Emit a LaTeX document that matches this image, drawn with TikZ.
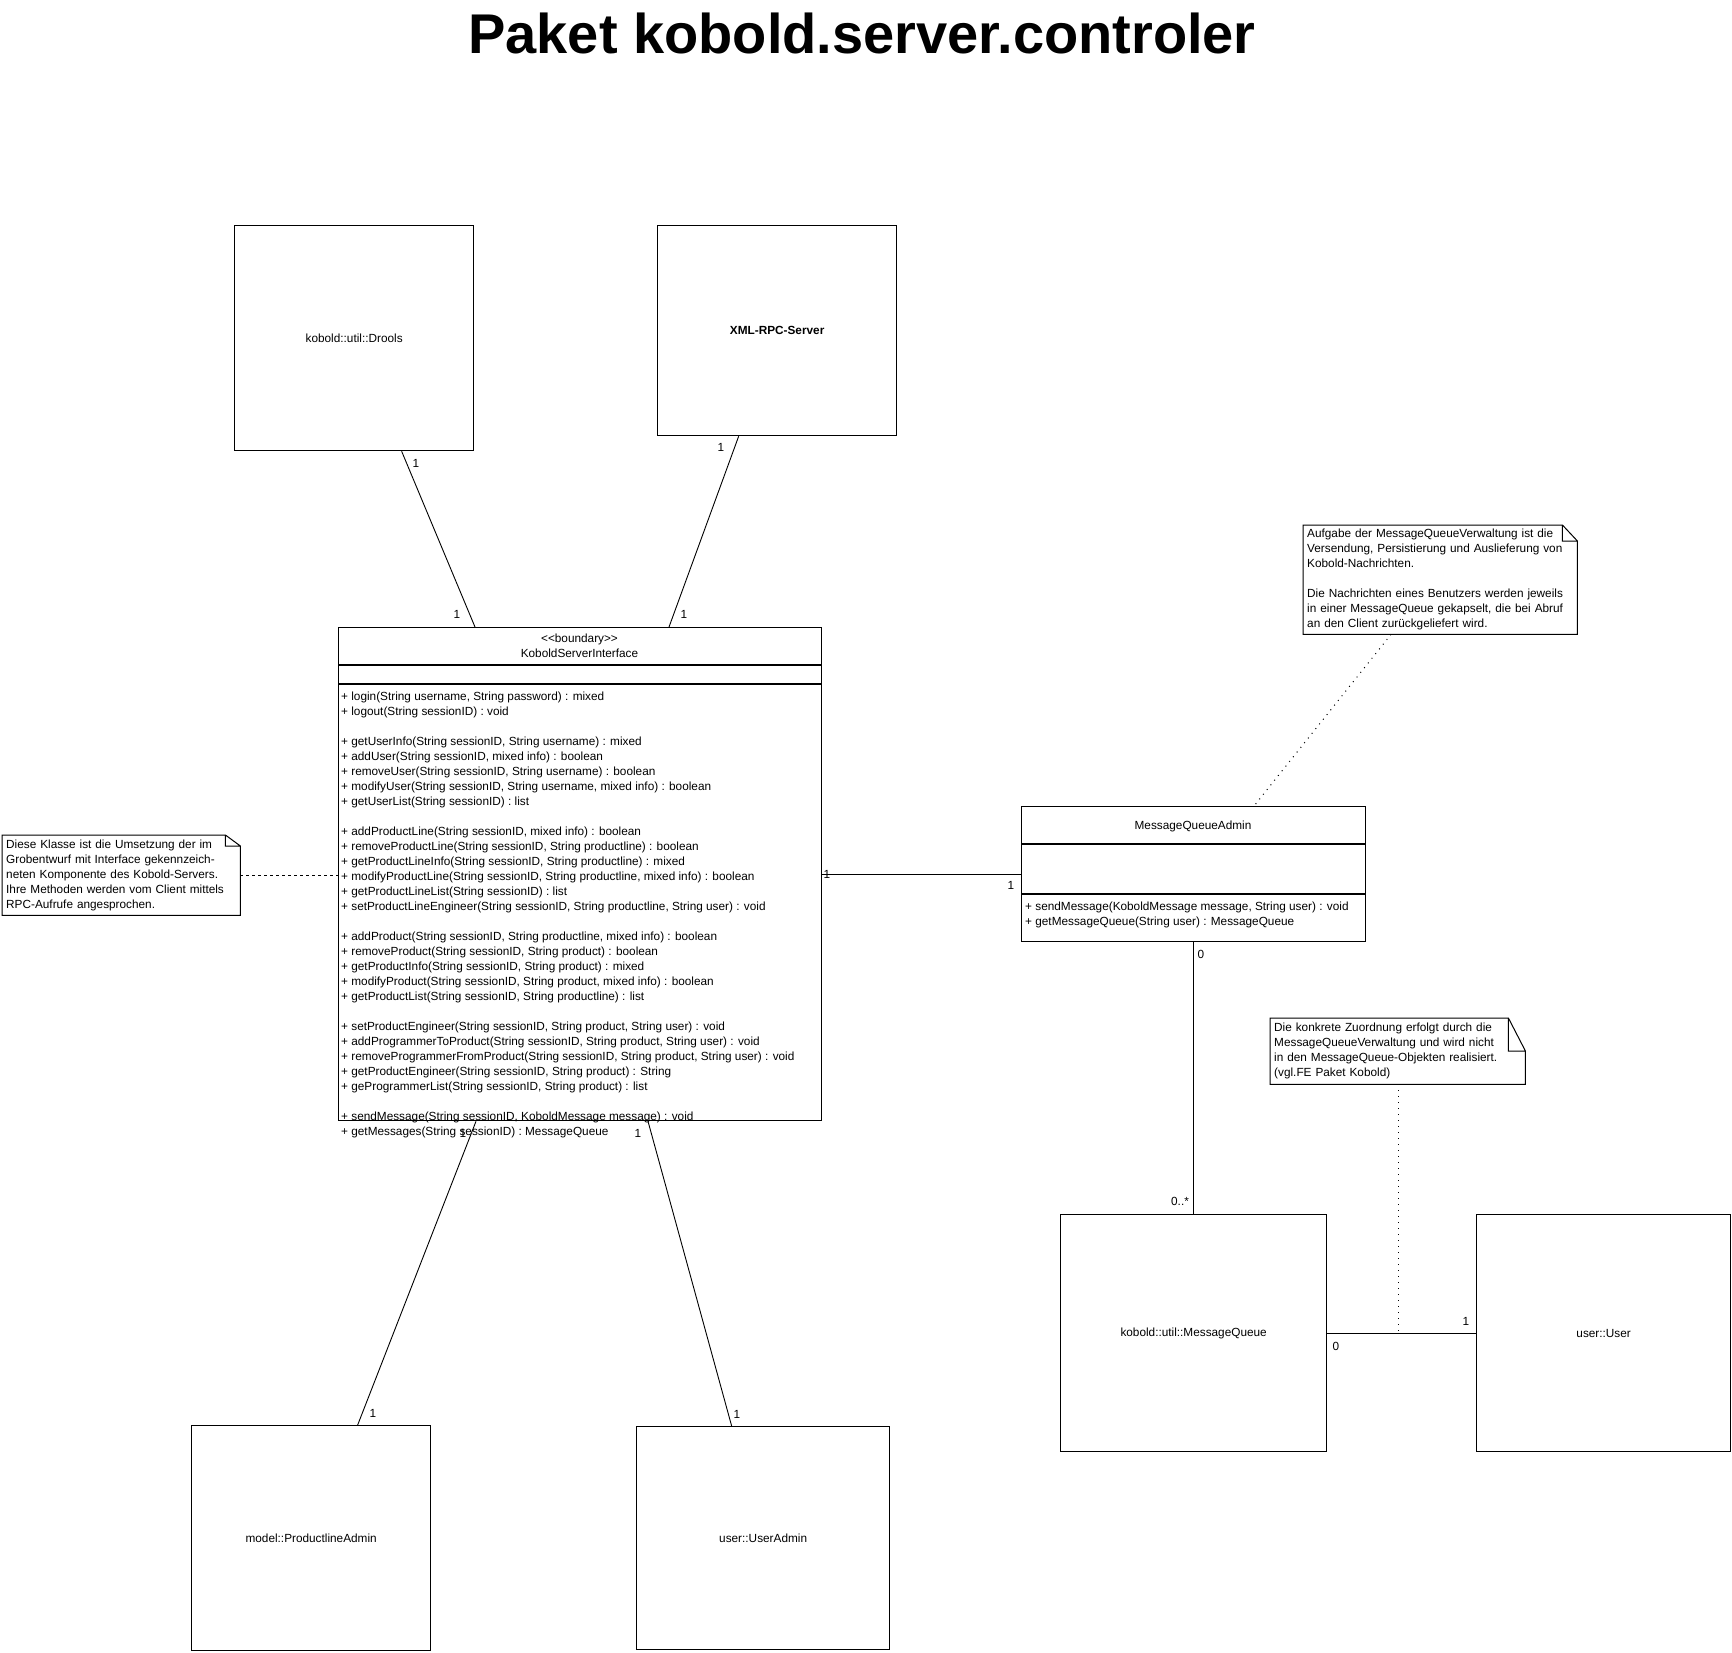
\documentclass[tikz,border=0pt]{standalone}
\usepackage{fontspec}
\setmainfont{Liberation Sans}
\newcommand{\umlfont}{\fontsize{11.8}{15}\selectfont}
% note outline with folded corner: name, fold width, fold height
\newcommand{\dogear}[3]{%
  \draw[line width=1pt] (#1.north west) -- ([xshift=-#2]#1.north east) -- ([yshift=-#3]#1.north east)
    -- (#1.south east) -- (#1.south west) -- cycle
    ([xshift=-#2]#1.north east) -- ([xshift=-#2,yshift=-#3]#1.north east) -- ([yshift=-#3]#1.north east);}

\begin{document}
\begin{tikzpicture}[x=1pt, y=-1pt,
    box/.style={draw, rectangle, anchor=north west, line width=1.3pt, inner sep=0pt, font=\umlfont},
    note/.style={rectangle, anchor=north west, inner sep=4pt, align=left, font=\umlfont},
    mult/.style={font=\umlfont, inner sep=0pt},
    assoc/.style={line width=0.9pt},
    dashlink/.style={line width=0.9pt, dash pattern=on 3pt off 3pt},
    dotlink/.style={line width=1pt, dash pattern=on 1pt off 5pt}]
    \useasboundingbox (0,0) rectangle (1732,1652);

    \node[anchor=base, font=\fontsize{56}{60}\selectfont\bfseries] (title) at (862,53) {Paket kobold.server.controler};

    % Top row
    \node[box, minimum width=239pt, minimum height=225pt] (drools) at (234,225) {kobold::util::Drools};
    \node[box, minimum width=239pt, minimum height=210pt, font=\umlfont\bfseries] (xmlrpc) at (657,225) {XML-RPC-Server};

    % Boundary class
    \node[box, minimum width=483pt, minimum height=493pt] (ksi) at (338,627) {};
    \node[mult, align=center] (ksi-name) at (579.5,646) {<{}<boundary>{}>\\KoboldServerInterface};
    \draw[line width=1.3pt] (338,665) -- (821,665);
    \draw[line width=1.3pt] (338,684) -- (821,684);
    \node[note, inner sep=0pt] (ksi-ops) at (341,691.5) {%
      + login(String username, String password) : mixed\\
      + logout(String sessionID) : void\\[15pt]
      + getUserInfo(String sessionID, String username) : mixed\\
      + addUser(String sessionID, mixed info) : boolean\\
      + removeUser(String sessionID, String username) : boolean\\
      + modifyUser(String sessionID, String username, mixed info) : boolean\\
      + getUserList(String sessionID) : list\\[15pt]
      + addProductLine(String sessionID, mixed info) : boolean\\
      + removeProductLine(String sessionID, String productline) : boolean\\
      + getProductLineInfo(String sessionID, String productline) : mixed\\
      + modifyProductLine(String sessionID, String productline, mixed info) : boolean\\
      + getProductLineList(String sessionID) : list\\
      + setProductLineEngineer(String sessionID, String productline, String user) : void\\[15pt]
      + addProduct(String sessionID, String productline, mixed info) : boolean\\
      + removeProduct(String sessionID, String product) : boolean\\
      + getProductInfo(String sessionID, String product) : mixed\\
      + modifyProduct(String sessionID, String product, mixed info) : boolean\\
      + getProductList(String sessionID, String productline) : list\\[15pt]
      + setProductEngineer(String sessionID, String product, String user) : void\\
      + addProgrammerToProduct(String sessionID, String product, String user) : void\\
      + removeProgrammerFromProduct(String sessionID, String product, String user) : void\\
      + getProductEngineer(String sessionID, String product) : String\\
      + geProgrammerList(String sessionID, String product) : list\\[15pt]
      + sendMessage(String sessionID, KoboldMessage message) : void\\
      + getMessages(String sessionID) : MessageQueue};

    % Bottom row
    \node[box, minimum width=239pt, minimum height=225pt] (plAdmin) at (191,1425) {model::ProductlineAdmin};
    \node[box, minimum width=253pt, minimum height=223pt] (userAdmin) at (636,1426) {user::UserAdmin};

    % Message queue side
    \node[box, minimum width=344pt, minimum height=135pt] (mqa) at (1021,806) {};
    \node[mult] (mqa-name) at (1193,826) {MessageQueueAdmin};
    \draw[line width=1.3pt] (1021,844) -- (1365,844);
    \draw[line width=1.3pt] (1021,894) -- (1365,894);
    \node[note, inner sep=0pt] (mqa-ops) at (1025,901.5) {%
      + sendMessage(KoboldMessage message, String user) : void\\
      + getMessageQueue(String user) : MessageQueue};
    \node[box, minimum width=266pt, minimum height=237pt] (mq) at (1060,1214) {kobold::util::MessageQueue};
    \node[box, minimum width=254pt, minimum height=237pt] (user) at (1476,1214) {user::User};

    % Notes
    \node[note, minimum width=238pt, minimum height=80pt, text width=230pt] (note-ksi) at (2,835) {%
      Diese Klasse ist die Umsetzung der im\\
      Grobentwurf mit Interface gekennzeich-\\
      neten Komponente des Kobold-Servers.\\
      Ihre Methoden werden vom Client mittels\\
      RPC-Aufrufe angesprochen.};
    \dogear{note-ksi}{15pt}{11pt}
    \node[note, minimum width=274pt, minimum height=107pt, text width=266pt] (note-mqa) at (1303,525) {%
      Aufgabe der MessageQueueVerwaltung ist die\\
      Versendung, Persistierung und Auslieferung von\\
      Kobold-Nachrichten.\\[15pt]
      Die Nachrichten eines Benutzers werden jeweils\\
      in einer MessageQueue gekapselt, die bei Abruf\\
      an den Client zurückgeliefert wird.};
    \dogear{note-mqa}{15pt}{16pt}
    \node[note, minimum width=255pt, minimum height=66pt, text width=247pt] (note-assign) at (1270,1018) {%
      Die konkrete Zuordnung erfolgt durch die\\
      MessageQueueVerwaltung und wird nicht\\
      in den MessageQueue-Objekten realisiert.\\
      (vgl.FE Paket Kobold)};
    \dogear{note-assign}{17pt}{33pt}

    % Associations
    \draw[assoc] ([xshift=47.5pt]drools.south) -- ([xshift=137pt]ksi.north west);
    \draw[assoc] ([xshift=-38.5pt]xmlrpc.south) -- ([xshift=331pt]ksi.north west);
    \draw[assoc] ([xshift=138pt]ksi.south west) -- ([xshift=46.5pt]plAdmin.north);
    \draw[assoc] ([xshift=310pt]ksi.south west) -- ([xshift=-31.5pt]userAdmin.north);
    \draw[assoc] (ksi.east |- mqa.west) -- (mqa.west);
    \draw[assoc] (mqa.south) -- (mq.north);
    \draw[assoc] (mq.east) -- (user.west) coordinate[pos=0.48] (mq-user);

    % Note links
    \draw[dashlink] (note-ksi.east) -- (ksi.west |- note-ksi.east);
    \draw[dotlink] ([xshift=88pt]note-mqa.south west) -- ([xshift=233pt]mqa.north west);
    \draw[dotlink] (note-assign.south -| mq-user) -- (mq-user);

    % Multiplicities
    \node[mult] (m-drools) at (416,463) {1};
    \node[mult] (m-ksi-drools) at (457,614) {1};
    \node[mult] (m-xmlrpc) at (721,447) {1};
    \node[mult] (m-ksi-xmlrpc) at (684,614) {1};
    \node[mult] (m-ksi-pl) at (463,1133) {1};
    \node[mult] (m-pl) at (373,1413) {1};
    \node[mult] (m-ksi-ua) at (638,1133) {1};
    \node[mult] (m-ua) at (737,1414) {1};
    \node[mult] (m-ksi-mqa) at (827,874) {1};
    \node[mult] (m-mqa-ksi) at (1011,885) {1};
    \node[mult] (m-mqa) at (1201,954) {0};
    \node[mult] (m-mq) at (1180,1201) {0..*};
    \node[mult] (m-mq-user) at (1336,1346) {0};
    \node[mult] (m-user) at (1466,1321) {1};
\end{tikzpicture}
\end{document}
